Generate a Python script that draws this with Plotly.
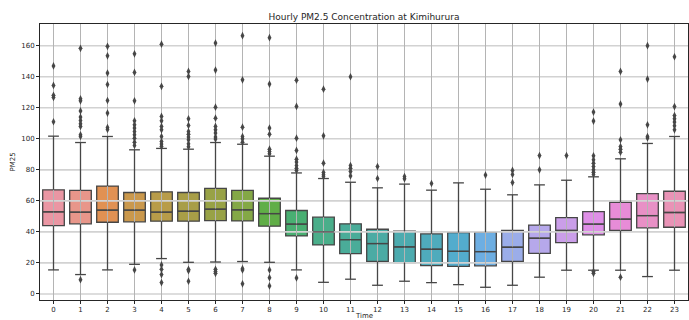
import math
import colorsys
import plotly.graph_objects as go

# ---------------- data ----------------
hours = list(range(24))
q1 = [44.1, 45.2, 46.2, 46.5, 46.9, 46.9, 47.3, 47.1, 43.7, 37.4, 31.6, 26.0,
      20.9, 20.2, 18.3, 17.8, 18.1, 20.9, 26.2, 33.1, 38.1, 40.9, 42.6, 43.0]
median = [52.9, 52.7, 54.0, 54.0, 52.7, 53.3, 54.6, 54.2, 51.8, 45.0, 40.0, 35.0,
          32.5, 30.3, 28.8, 27.5, 27.3, 30.1, 35.9, 40.9, 45.0, 48.2, 50.5, 52.5]
q3 = [67.1, 66.7, 69.5, 65.4, 65.8, 65.4, 68.0, 66.7, 61.7, 53.8, 49.5, 45.2,
      41.7, 40.4, 38.7, 39.6, 39.8, 40.9, 44.3, 49.2, 53.1, 59.1, 64.7, 66.2]
whisker_low = [15.5, 12.5, 15.5, 19.1, 22.8, 20.4, 20.6, 20.9, 20.4, 15.5, 7.5, 9.5,
               5.6, 8.2, 7.3, 6.0, 4.3, 5.6, 10.8, 15.3, 15.3, 15.3, 11.2, 15.3]
whisker_high = [101.7, 97.6, 101.5, 92.9, 93.8, 93.3, 97.6, 96.5, 88.8, 78.0, 74.4, 72.0,
                68.4, 70.8, 66.9, 71.6, 67.5, 63.9, 70.3, 73.3, 75.5, 87.1, 97.0, 101.5]
outliers_high = [
    [147.0, 134.4, 128.0, 126.7, 111.0],
    [158.3, 125.8, 124.5, 118.0, 114.0, 111.8, 109.7, 108.0, 102.6, 101.5],
    [159.6, 153.5, 142.4, 135.0, 124.7, 116.6, 107.3, 106.0],
    [154.8, 142.8, 124.5, 111.6, 109.0, 106.9, 104.7, 102.6, 100.4, 97.8, 95.7],
    [161.0, 133.8, 114.4, 111.6, 108.0, 105.8, 101.5, 98.3, 96.6, 95.1],
    [143.4, 140.2, 112.9, 108.6, 104.7, 103.0, 101.1, 99.4, 96.8, 94.8],
    [161.7, 144.3, 120.4, 113.3, 108.0, 105.8, 103.7, 101.1, 99.8],
    [166.5, 138.0, 107.5, 101.5, 100.0, 97.8],
    [165.2, 135.3, 106.9, 103.0, 93.3, 91.8, 90.3],
    [137.8, 120.9, 100.4, 92.5, 86.9, 85.0, 82.8, 81.0, 79.6],
    [132.0, 101.9, 84.3, 78.3, 76.8, 75.7],
    [140.0, 82.8, 81.0, 78.9, 76.1],
    [82.1, 74.4],
    [75.7, 74.2],
    [71.2],
    [],
    [76.6],
    [79.6, 77.0, 71.8],
    [89.2, 80.0],
    [89.2],
    [117.2, 111.4, 89.0, 86.5, 84.3, 82.1, 80.0, 78.5, 77.0],
    [143.4, 122.4, 99.4, 95.0, 93.3, 91.4],
    [160.0, 138.5, 109.0, 101.5, 100.6],
    [152.9, 120.8, 115.0, 112.9, 110.8, 108.4, 105.8],
]
outliers_low = [
    [], [9.2], [], [15.5], [18.7, 15.9, 12.5, 7.3], [15.9, 15.0, 8.2],
    [15.9, 14.4, 13.3], [16.3, 15.5, 6.5], [15.5, 10.5, 5.2], [10.3],
    [], [], [], [], [], [], [], [], [], [],
    [14.4, 13.3], [10.8], [], [],
]
y_ticks = [0, 20, 40, 60, 80, 100, 120, 140, 160]

TITLE = "Hourly PM2.5 Concentration at Kimihurura"
X_LABEL = "Time"
Y_LABEL = "PM25"

# ---------------- styling: seaborn default husl palette ----------------
_M = [[3.2406, -1.5372, -0.4986], [-0.9689, 1.8758, 0.0415], [0.0557, -0.2040, 1.0570]]
_REF_U, _REF_V = 0.19784, 0.46834


def _max_chroma(L, H):
    hrad = math.radians(H)
    sinH, cosH = math.sin(hrad), math.cos(hrad)
    sub1 = (L + 16) ** 3 / 1560896.0
    sub2 = sub1 if sub1 > 0.008856 else L / 903.3
    result = float("inf")
    for m1, m2, m3 in _M:
        top = (0.99915 * m1 + 1.05122 * m2 + 1.14460 * m3) * sub2
        rbottom = 0.86330 * m3 - 0.17266 * m2
        lbottom = 0.12949 * m3 - 0.38848 * m1
        bottom = (rbottom * sinH + lbottom * cosH) * sub2
        for t in (0.0, 1.0):
            C = L * (top - 1.05122 * t) / (bottom + 0.17266 * sinH * t)
            if 0.0 < C < result:
                result = C
    return result


def _husl_to_rgb(H, S, L):
    C = _max_chroma(L, H) / 100.0 * S
    hr = math.radians(H)
    U, V = math.cos(hr) * C, math.sin(hr) * C
    t = (L + 16.0) / 116.0
    varY = t ** 3 if t ** 3 > 0.008856 else (116.0 * t - 16.0) / 903.3
    varU = U / (13.0 * L) + _REF_U
    varV = V / (13.0 * L) + _REF_V
    Y = varY
    X = 0.0 - (9.0 * Y * varU) / ((varU - 4.0) * varV - varU * varV)
    Z = (9.0 * Y - 15.0 * varV * Y - varV * X) / (3.0 * varV)
    out = []
    for row in _M:
        c = row[0] * X + row[1] * Y + row[2] * Z
        c = 12.92 * c if c <= 0.0031308 else 1.055 * c ** (1 / 2.4) - 0.055
        out.append(min(1.0, max(0.0, c)))
    return out


n = len(hours)
palette = []
for i in range(n):
    hue = ((i / n) + 0.01) % 1 * 359
    r, g, b = _husl_to_rgb(hue, 0.9 * 99, 0.7 * 99)
    hh, ll, ss = colorsys.rgb_to_hls(r, g, b)
    palette.append(colorsys.hls_to_rgb(hh, ll, ss * 0.75))
lum = min(colorsys.rgb_to_hls(*c)[1] for c in palette) * 0.6
GRAY = "rgb(%d,%d,%d)" % ((round(lum * 255),) * 3)


def rgb_str(c):
    return "rgb(%d,%d,%d)" % tuple(round(v * 255) for v in c)


BOX_W = 0.8
LW = 1.3
X_RANGE = [-0.5, 23.5]
Y_RANGE = [-3.9, 174]
FONT = "DejaVu Sans"

fig = go.Figure()

# boxes (body + median); whiskers drawn later above the grid, like matplotlib
for i, h in enumerate(hours):
    fig.add_trace(go.Box(
        x=[h], q1=[q1[i]], median=[median[i]], q3=[q3[i]],
        lowerfence=[q1[i]], upperfence=[q3[i]],
        width=BOX_W, whiskerwidth=0, boxpoints=False,
        fillcolor=rgb_str(palette[i]),
        line=dict(color=GRAY, width=LW),
        hoverinfo="skip", showlegend=False,
    ))

# grid (matplotlib draws it above the box bodies)
gx, gy = [], []
for v in y_ticks:
    gx += [X_RANGE[0], X_RANGE[1], None]
    gy += [v, v, None]
fig.add_trace(go.Scatter(x=gx, y=gy, mode="lines",
                         line=dict(color="#d2d2d2", width=1.6),
                         hoverinfo="skip", showlegend=False))
vx, vy = [], []
for h in hours:
    vx += [h, h, None]
    vy += [Y_RANGE[0], Y_RANGE[1], None]
fig.add_trace(go.Scatter(x=vx, y=vy, mode="lines",
                         line=dict(color="#b4b4b4", width=1),
                         hoverinfo="skip", showlegend=False))

# whiskers, caps and medians
wx, wy = [], []
for i, h in enumerate(hours):
    wx += [h, h, None, h, h, None]
    wy += [q3[i], whisker_high[i], None, q1[i], whisker_low[i], None]
    for v in (whisker_high[i], whisker_low[i]):
        wx += [h - BOX_W / 4, h + BOX_W / 4, None]
        wy += [v, v, None]
    wx += [h - BOX_W / 2, h + BOX_W / 2, None]
    wy += [median[i], median[i], None]
fig.add_trace(go.Scatter(x=wx, y=wy, mode="lines",
                         line=dict(color=GRAY, width=LW),
                         hoverinfo="skip", showlegend=False))

# fliers
fx, fy = [], []
for i, h in enumerate(hours):
    for v in outliers_high[i] + outliers_low[i]:
        fx.append(h)
        fy.append(v)
fig.add_trace(go.Scatter(x=fx, y=fy, mode="markers",
                         marker=dict(symbol="diamond-tall", size=5.5, color=GRAY,
                                     line=dict(width=0)),
                         showlegend=False))

axis_common = dict(
    showline=True, mirror=True, linecolor="#262626", linewidth=1,
    ticks="outside", ticklen=3, tickwidth=1, tickcolor="#262626",
    showgrid=False, zeroline=False,
    tickfont=dict(family=FONT, size=7, color="#262626"),
)
fig.update_xaxes(range=X_RANGE, tickvals=hours, ticktext=[str(h) for h in hours],
                 **axis_common)
fig.update_yaxes(range=Y_RANGE, tickvals=y_ticks, ticktext=[str(v) for v in y_ticks],
                 **axis_common)

fig.update_layout(
    width=689, height=320,
    margin=dict(l=40, r=1, t=24, b=20, autoexpand=False),
    paper_bgcolor="white", plot_bgcolor="white",
    font=dict(family=FONT, color="#262626"),
    title=dict(text=TITLE, x=0.5, xref="paper", xanchor="center",
               y=1 - 17 / 320, yref="container", yanchor="middle",
               font=dict(family=FONT, size=9, color="#262626")),
    annotations=[
        dict(text=X_LABEL, xref="paper", yref="paper", x=0.5, y=-0.036,
             xanchor="center", yanchor="top", showarrow=False,
             font=dict(family=FONT, size=7, color="#262626")),
        dict(text=Y_LABEL, xref="paper", yref="paper", x=-0.041, y=0.5,
             xanchor="center", yanchor="middle", textangle=-90, showarrow=False,
             font=dict(family=FONT, size=7, color="#262626")),
    ],
)

fig.write_html(
    "out.html",
    config={"displayModeBar": False},
    post_script="document.body.style.margin='0';document.body.style.overflow='hidden';",
)
